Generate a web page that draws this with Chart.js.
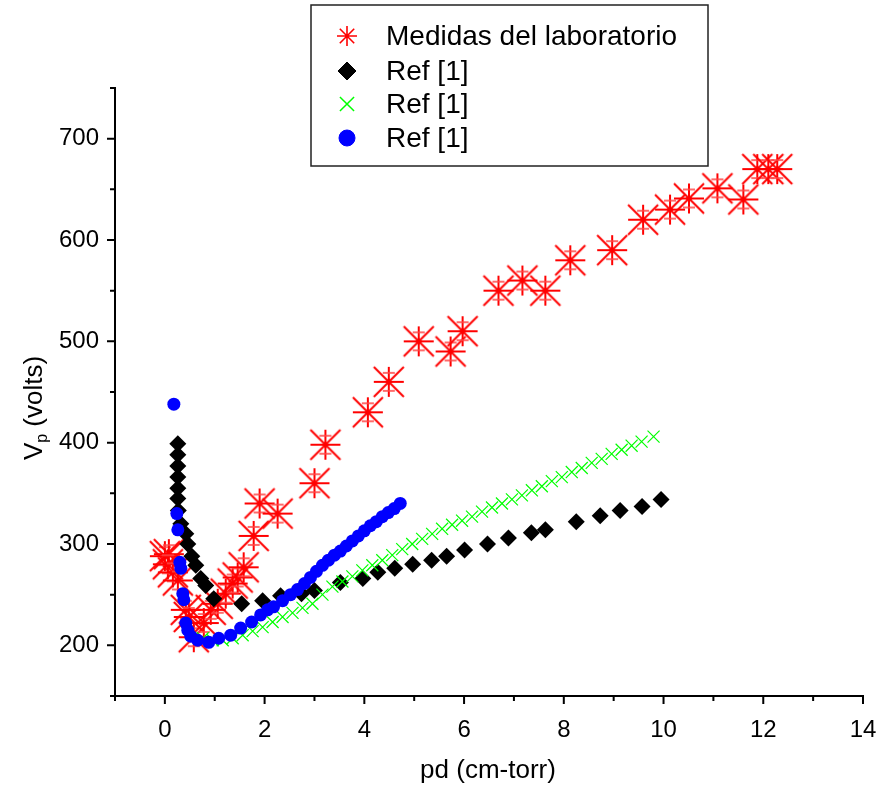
<!DOCTYPE html>
<html>
<head>
<meta charset="utf-8">
<script src="https://cdn.jsdelivr.net/npm/chart.js@4/dist/chart.umd.min.js"></script>
<style>
  body { margin: 0; background: #fff; }
  #wrap { width: 880px; height: 790px; }
</style>
</head>
<body>
<div id="wrap"><canvas id="myChart" width="880" height="790"></canvas></div>
<script>
// Medidas del laboratorio (red stars)
var labPd = [0, 0.08, 0.06, 0.16, 0.26, 0.42, 0.48, 0.58, 0.78, 0.92, 1.06, 1.22, 1.36, 1.46, 1.58, 1.78, 1.9, 2.26,
             3.0, 3.22, 4.07, 4.49, 5.09, 5.73, 5.97, 6.69, 7.17, 7.63, 8.13, 8.97, 9.59, 10.13, 10.51, 11.08, 11.6, 11.88, 12.1, 12.28];
var labV  = [288, 290, 280, 272, 264, 235, 228, 208, 222, 235, 241, 251, 261, 267, 277, 308, 340, 330,
             360, 398, 430, 460, 500, 490, 510, 550, 560, 550, 580, 590, 620, 630, 641, 651, 640, 670, 670, 670];

// Ref [1] black diamonds
var refAPd = [0.26, 0.26, 0.26, 0.26, 0.26, 0.26, 0.27, 0.32, 0.42, 0.46, 0.54, 0.62, 0.72, 0.82, 0.98, 1.54, 1.96, 2.32,
              2.74, 3.0, 3.52, 3.97, 4.27, 4.61, 4.97, 5.35, 5.65, 6.01, 6.47, 6.89, 7.35, 7.63, 8.25, 8.73, 9.13, 9.57, 9.95];
var refAV  = [399, 388, 377, 366, 355, 345, 333, 320, 310, 300, 288, 279, 266, 259, 246, 241, 244, 249,
              251, 254, 262, 266, 272, 276, 280, 284, 288, 294, 300, 306, 311, 314, 322, 328, 333, 337, 344];

// Ref [1] green crosses
var refBPd = [0.76, 0.96, 1.16, 1.36, 1.56, 1.76, 1.96, 2.16, 2.36, 2.56, 2.76, 2.96, 3.16, 3.36, 3.56, 3.76, 3.96, 4.16,
              4.36, 4.56, 4.76, 4.96, 5.16, 5.36, 5.56, 5.76, 5.96, 6.16, 6.36, 6.56, 6.76, 6.96, 7.16, 7.36, 7.56, 7.76,
              7.96, 8.16, 8.36, 8.56, 8.76, 8.96, 9.16, 9.36, 9.56, 9.8];
var refBV  = [207, 205, 205, 207, 210, 214, 218, 223, 228, 232, 237, 241, 250, 258, 263, 268, 274, 279,
              284, 289, 295, 300, 305, 310, 315, 319, 323, 327, 332, 336, 340, 344, 348, 353, 357, 362,
              366, 371, 375, 380, 384, 389, 393, 397, 401, 406];

// Ref [1] blue circles
var refCPd = [0.18, 0.24, 0.26, 0.3, 0.32, 0.36, 0.38, 0.42, 0.46, 0.52, 0.66, 0.88, 1.08, 1.32, 1.52, 1.74, 1.92, 2.06,
              2.18, 2.36, 2.52, 2.66, 2.8, 2.92, 3.04, 3.16, 3.28, 3.4, 3.52, 3.64, 3.76, 3.88, 4.0, 4.12, 4.24, 4.36, 4.48, 4.6, 4.72];
var refCV  = [438, 330, 314, 282, 276, 251, 245, 222, 215, 209, 205, 203, 207, 210, 217, 223, 230, 235,
              238, 244, 250, 255, 261, 267, 273, 279, 284, 289, 293, 298, 303, 308, 313, 318, 322, 327, 331, 335, 340];

var xTicks = [0, 2, 4, 6, 8, 10, 12, 14];
var yTicks = [200, 300, 400, 500, 600, 700];
var legendLabels = ['Medidas del laboratorio', 'Ref [1]', 'Ref [1]', 'Ref [1]'];

var fontFam = "'Liberation Sans', Arial, sans-serif";

function pts(xs, ys) {
    return xs.map(function (x, i) { return { x: x, y: ys[i] }; });
}

// star marker with a small error bar, as in the original plot
function makeStar(half, capOff, capHalf, lw, withCaps) {
    var c = document.createElement('canvas');
    var s = half * 2 + 4;
    c.width = s; c.height = s;
    var g = c.getContext('2d');
    var m = s / 2;
    g.strokeStyle = '#ff0000';
    g.lineWidth = lw;
    g.beginPath();
    g.moveTo(m - half, m - half); g.lineTo(m + half, m + half);
    g.moveTo(m - half, m + half); g.lineTo(m + half, m - half);
    g.moveTo(m - half, m); g.lineTo(m + half, m);
    g.moveTo(m, m - half); g.lineTo(m, m + half);
    g.stroke();
    if (withCaps) {
        g.strokeStyle = 'rgba(255,70,70,0.8)';
        g.beginPath();
        g.moveTo(m - capHalf, m - capOff); g.lineTo(m + capHalf, m - capOff);
        g.moveTo(m - capHalf, m + capOff); g.lineTo(m + capHalf, m + capOff);
        g.stroke();
    }
    return c;
}
var starPoint = makeStar(15, 9, 6, 2, true);

function makeAsterisk(r) {
    var c = document.createElement('canvas');
    var s = r * 2 + 4;
    c.width = s; c.height = s;
    var g = c.getContext('2d');
    var m = s / 2, d = r * 0.72;
    g.strokeStyle = '#ff0000';
    g.lineWidth = 1.6;
    g.beginPath();
    g.moveTo(m, m - r); g.lineTo(m, m + r);
    g.moveTo(m - r, m); g.lineTo(m + r, m);
    g.moveTo(m - d, m - d); g.lineTo(m + d, m + d);
    g.moveTo(m - d, m + d); g.lineTo(m + d, m - d);
    g.stroke();
    return c;
}
var legendStar = makeAsterisk(10);

var axisDecor = {
    id: 'axisDecor',
    afterDraw: function (chart) {
        var ctx = chart.ctx;
        var xs = chart.scales.x, ys = chart.scales.y;
        var bottom = chart.chartArea.bottom, left = chart.chartArea.left;
        ctx.save();
        ctx.strokeStyle = '#000';
        ctx.lineWidth = 2;
        ctx.beginPath();
        for (var v = -1; v <= 14; v++) {
            var px = xs.getPixelForValue(v);
            var len = (v % 2 === 0) ? 8 : 5;
            ctx.moveTo(px, bottom); ctx.lineTo(px, bottom + len);
        }
        for (var w = 150; w <= 750; w += 50) {
            var py = ys.getPixelForValue(w);
            var len2 = (w % 100 === 0) ? 8 : 5;
            ctx.moveTo(left, py); ctx.lineTo(left - len2, py);
        }
        ctx.stroke();

        // axis titles
        ctx.fillStyle = '#000';
        ctx.font = '26px ' + fontFam;
        ctx.textAlign = 'center';
        ctx.textBaseline = 'middle';
        ctx.fillText('pd (cm-torr)', 488, 771);

        ctx.translate(35, 408);
        ctx.rotate(-Math.PI / 2);
        ctx.textAlign = 'left';
        var f1 = '26px ' + fontFam, f2 = '16px ' + fontFam;
        ctx.font = f1; var wV = ctx.measureText('V').width;
        ctx.font = f2; var wP = ctx.measureText('p').width;
        ctx.font = f1; var wR = ctx.measureText(' (volts)').width;
        var x0 = -(wV + wP + wR) / 2;
        ctx.font = f1; ctx.fillText('V', x0, 0);
        ctx.font = f2; ctx.fillText('p', x0 + wV, 8);
        ctx.font = f1; ctx.fillText(' (volts)', x0 + wV + wP, 0);
        ctx.restore();

        // legend box
        ctx.save();
        ctx.strokeStyle = '#222';
        ctx.lineWidth = 1.5;
        ctx.fillStyle = '#fff';
        ctx.fillRect(311, 5, 397, 161);
        ctx.strokeRect(311, 5, 397, 161);
        var rows = [36, 71, 104, 138];
        var h = Chart.helpers;
        ctx.drawImage(legendStar, 347 - legendStar.width / 2, rows[0] - legendStar.height / 2);
        ctx.fillStyle = '#000'; ctx.strokeStyle = '#000'; ctx.lineWidth = 1;
        h.drawPoint(ctx, { pointStyle: 'rectRot', radius: 9, borderWidth: 1 }, 347, rows[1]);
        ctx.strokeStyle = '#00ff00'; ctx.lineWidth = 1.5;
        h.drawPoint(ctx, { pointStyle: 'crossRot', radius: 10, borderWidth: 1.5 }, 347, rows[2]);
        ctx.fillStyle = '#0000ff'; ctx.strokeStyle = '#0000ff'; ctx.lineWidth = 1;
        h.drawPoint(ctx, { pointStyle: 'circle', radius: 8, borderWidth: 1 }, 347, rows[3]);
        ctx.fillStyle = '#000';
        ctx.font = '28px ' + fontFam;
        ctx.textAlign = 'left';
        ctx.textBaseline = 'middle';
        for (var i = 0; i < legendLabels.length; i++) {
            ctx.fillText(legendLabels[i], 386, rows[i] + 1);
        }
        ctx.restore();
    }
};

var ctx = document.getElementById('myChart').getContext('2d');
var myChart = new Chart(ctx, {
    type: 'scatter',
    data: {
        datasets: [{
            label: legendLabels[3],
            data: pts(refCPd, refCV),
            pointStyle: 'circle',
            pointRadius: 6.5,
            backgroundColor: '#0000ff',
            borderColor: '#0000ff',
            borderWidth: 0,
            order: 0
        }, {
            label: legendLabels[2],
            data: pts(refBPd, refBV),
            pointStyle: 'crossRot',
            pointRadius: 8.5,
            borderColor: '#00ff00',
            borderWidth: 1.2,
            order: 1
        }, {
            label: legendLabels[1],
            data: pts(refAPd, refAV),
            pointStyle: 'rectRot',
            pointRadius: 8.5,
            backgroundColor: '#000',
            borderColor: '#000',
            borderWidth: 0,
            order: 2
        }, {
            label: legendLabels[0],
            data: pts(labPd, labV),
            pointStyle: starPoint,
            pointRadius: 15,
            borderColor: '#ff0000',
            order: 3
        }]
    },
    options: {
        responsive: false,
        animation: false,
        layout: { padding: { top: 88, right: 17, left: 0, bottom: 0 } },
        plugins: {
            legend: { display: false },
            tooltip: { enabled: false }
        },
        scales: {
            x: {
                type: 'linear',
                min: -1,
                max: 14,
                grid: { display: false },
                border: { display: true, color: '#000', width: 2 },
                afterFit: function (scale) {
                    scale.height = 94;
                    scale.paddingLeft = 0;
                    scale.paddingRight = 0;
                },
                afterBuildTicks: function (scale) {
                    scale.ticks = xTicks.map(function (v) { return { value: v }; });
                },
                ticks: {
                    color: '#000',
                    padding: 12,
                    maxRotation: 0,
                    font: { family: fontFam, size: 24 }
                }
            },
            y: {
                type: 'linear',
                min: 150,
                max: 750,
                grid: { display: false },
                border: { display: true, color: '#000', width: 2 },
                afterFit: function (scale) {
                    scale.width = 115;
                    scale.paddingTop = 0;
                    scale.paddingBottom = 0;
                },
                afterBuildTicks: function (scale) {
                    scale.ticks = yTicks.map(function (v) { return { value: v }; });
                },
                ticks: {
                    color: '#000',
                    padding: 8,
                    font: { family: fontFam, size: 24 }
                }
            }
        }
    },
    plugins: [axisDecor]
});
</script>
</body>
</html>
